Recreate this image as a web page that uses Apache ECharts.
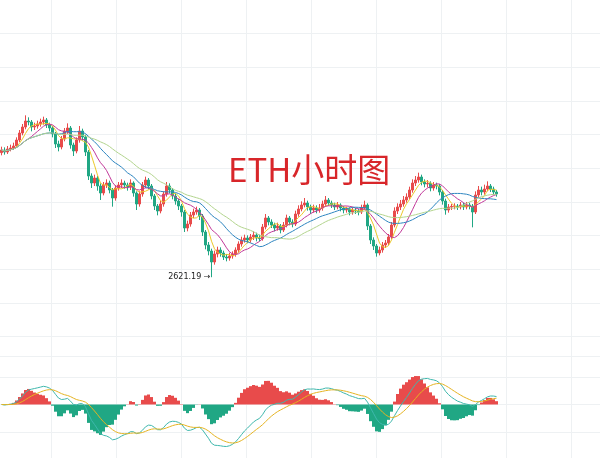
<!DOCTYPE html>
<html><head><meta charset="utf-8">
<script src="https://cdn.jsdelivr.net/npm/echarts@6/dist/echarts.min.js"></script>
<style>html,body{margin:0;padding:0;background:#fff}#c{width:600px;height:458px}</style>
</head><body><div id="c"></div>
<script>
// ---- data (hourly ETH) ----
const firstOpen = 2808;
const closes = [
2812,2809,2813.5,2815,2818,2827,2837.5,2846.5,2855.5,2854,
2846.5,2848,2851,2854,2857,2849.5,2845,2836,2821,2816.5,
2828.5,2840.5,2845,2819.5,2810.5,2827,2840.5,2831.5,2809,2773,
2762.5,2770,2758,2747.5,2759.5,2762.5,2752,2740,2755,2759.5,
2762.5,2759.5,2756.5,2762.5,2747.5,2731,2746,2759.5,2767,2758,
2743,2728,2720.5,2731,2746,2758,2752,2743,2735.5,2728,
2719,2695,2701,2714.5,2719,2722,2713,2689,2669.5,2660.5,
2644,2656,2662,2657.5,2651.5,2650,2653,2656,2662,2671,
2677,2680,2677,2681.5,2684.5,2680,2679,2696.5,2710,2704,
2699.5,2695,2698,2692,2699.5,2710,2704,2701,2716,2723.5,
2729.5,2732.5,2726.5,2722,2725,2722,2725,2731,2737,2732.5,
2729.5,2726.5,2729.5,2725,2722,2723,2719,2722,2720.5,2719,
2725,2729.5,2698,2677,2668,2657.5,2662,2669.5,2672.5,2681.5,
2699.5,2720.5,2726.5,2731,2737,2741.5,2752,2762.5,2767,2771.5,
2764,2761,2762,2755,2759.5,2758,2749,2735.5,2722,2726.5,
2727.5,2728,2726.5,2729.5,2726.5,2729.5,2728,2719,2744.5,2752,
2749,2753.5,2758,2753.5,2749,2746
];
const highs = [
2817,2816,2818,2820,2823,2831,2842,2851,2864,2861,
2857,2853,2856,2859,2862,2860,2853,2848,2839,2826,
2833,2845,2852,2848,2823,2831,2848,2844,2835,2812,
2777,2775,2773,2762,2764,2768,2766,2755,2759,2764,
2768,2766,2763,2768,2765,2750,2750,2764,2772,2770,
2761,2746,2731,2736,2750,2764,2762,2755,2747,2739,
2731,2722,2706,2719,2724,2727,2725,2716,2692,2674,
2664,2661,2667,2666,2661,2656,2658,2660,2666,2675,
2682,2685,2684,2686,2690,2688,2685,2701,2716,2713,
2708,2703,2703,2701,2704,2715,2713,2708,2721,2729,
2735,2740,2736,2730,2730,2729,2731,2736,2743,2740,
2736,2733,2734,2732,2728,2727,2726,2726,2725,2724,
2730,2736,2732,2701,2681,2671,2667,2674,2677,2686,
2704,2726,2732,2737,2743,2747,2757,2768,2773,2778,
2775,2768,2767,2765,2764,2763,2761,2752,2739,2731,
2731,2732,2731,2734,2733,2734,2733,2731,2750,2758,
2757,2760,2765,2761,2757,2752
];
const lows = [
2804,2805,2806,2810,2812,2815,2824,2834,2843,2849,
2840,2842,2844,2847,2850,2845,2840,2831,2815,2810,
2813,2825,2836,2814,2803,2807,2823,2826,2803,2767,
2755,2758,2751,2737,2744,2755,2747,2727,2736,2751,
2755,2754,2751,2752,2742,2722,2727,2742,2755,2753,
2738,2722,2714,2717,2727,2742,2747,2738,2730,2722,
2712,2689,2690,2697,2710,2715,2707,2683,2663,2654,
2621.19,2640,2651,2652,2647,2645,2646,2649,2652,2658,
2667,2673,2672,2673,2677,2675,2675,2676,2693,2699,
2695,2690,2691,2687,2689,2696,2699,2696,2698,2712,
2720,2726,2721,2716,2718,2717,2718,2721,2727,2728,
2725,2722,2723,2720,2717,2718,2714,2715,2716,2714,
2716,2722,2692,2671,2662,2652,2654,2658,2665,2669,
2678,2696,2716,2722,2727,2733,2738,2748,2758,2763,
2759,2756,2756,2750,2751,2753,2744,2730,2715,2718,
2722,2723,2722,2723,2722,2723,2723,2696,2716,2740,
2744,2745,2750,2749,2745,2742
];
const maPeriods = [5, 10, 20, 30];
const maColors = ['#ecc92a', '#c2399a', '#2e86c1', '#b3d58e'];
const titleText = 'ETH小时图';

// ---- derived ----
const opens = closes.map((c, i) => i === 0 ? firstOpen : closes[i - 1]);
const cats = closes.map((_, i) => String(i));
const kdata = closes.map((c, i) => [opens[i], c, lows[i], highs[i]]);
function sma(n) {
  return closes.map((_, i) => {
    const s = Math.max(0, i - n + 1); let t = 0;
    for (let j = s; j <= i; j++) t += closes[j];
    return +(t / (i - s + 1)).toFixed(2);
  });
}
function ema(arr, n) {
  const k = 2 / (n + 1); const out = [];
  arr.forEach((v, i) => out.push(i === 0 ? v : out[i - 1] + k * (v - out[i - 1])));
  return out;
}
const e12 = ema(closes, 12), e26 = ema(closes, 26);
const dif = e12.map((v, i) => v - e26[i]);
const dea = ema(dif, 9);
const hist = dif.map((v, i) => 2 * (v - dea[i]));
let maxAbs = 0;
dif.concat(dea, hist).forEach(v => { maxAbs = Math.max(maxAbs, Math.abs(v)); });
const M = maxAbs * 53.5 / 42;

const UP = '#e84b4b', DOWN = '#20a784', GRIDC = '#eef1f3';
const noAx = { axisLine: { show: false }, axisTick: { show: false }, axisLabel: { show: false } };

const chart = echarts.init(document.getElementById('c'), null, { renderer: 'canvas' });
chart.setOption({
  animation: false,
  backgroundColor: '#fff',
  title: {
    text: titleText, left: 228, top: 153, padding: 0,
    textStyle: { color: '#d8262a', fontSize: 33, fontWeight: 'normal', fontFamily: 'Noto Sans CJK SC' }
  },
  grid: [
    { left: 51.5, right: 0, top: 0, bottom: 0 },
    { left: 0, right: 0, top: 33.5, height: 323 },
    { left: 0, right: 0, top: 377, height: 55 },
    { left: 0, width: 498, top: 0, height: 356.5 },
    { left: 0, width: 498, top: 351, height: 107 }
  ],
  xAxis: [
    Object.assign({ gridIndex: 0, type: 'value', min: 0, max: 548.5 / 65, interval: 1, splitLine: { show: true, lineStyle: { color: GRIDC, width: 1 } } }, noAx),
    { gridIndex: 1, type: 'value', min: 0, max: 1, axisLine: { show: true, lineStyle: { color: GRIDC } }, axisTick: { show: false }, axisLabel: { show: false }, splitLine: { show: false } },
    { gridIndex: 2, type: 'value', min: 0, max: 1, show: false },
    { gridIndex: 3, type: 'category', data: cats, boundaryGap: true, show: false },
    { gridIndex: 4, type: 'category', data: cats, boundaryGap: true, show: false }
  ],
  yAxis: [
    { gridIndex: 0, type: 'value', min: 0, max: 1, show: false },
    Object.assign({ gridIndex: 1, type: 'value', inverse: true, min: 0, max: 323 / 33.67, interval: 1, splitLine: { show: true, lineStyle: { color: GRIDC } } }, noAx),
    Object.assign({ gridIndex: 2, type: 'value', min: 0, max: 2, interval: 1, splitLine: { show: true, lineStyle: { color: GRIDC } } }, noAx),
    { gridIndex: 3, type: 'value', min: 2502.25, max: 3037, show: false, splitLine: { show: false } },
    { gridIndex: 4, type: 'value', min: -M, max: M, show: false, splitLine: { show: false } }
  ],
  series: [
    {
      type: 'candlestick', xAxisIndex: 3, yAxisIndex: 3, data: kdata, barWidth: 2,
      itemStyle: { color: UP, color0: DOWN, borderColor: UP, borderColor0: DOWN, borderWidth: 1 },
      markPoint: {
        symbol: 'circle', symbolSize: 0,
        data: [{ type: 'min', valueDim: 'lowest' }],
        label: { show: true, position: 'left', distance: 1, fontSize: 8, color: '#222', fontFamily: 'DejaVu Sans',
          formatter: p => Number(p.value).toFixed(2) + ' →' }
      }
    },
    ...maPeriods.map((n, k) => ({
      type: 'line', xAxisIndex: 3, yAxisIndex: 3, data: sma(n), showSymbol: false, symbol: 'none',
      lineStyle: { width: 1, color: maColors[k] }, z: 3
    })),
    {
      type: 'bar', xAxisIndex: 4, yAxisIndex: 4, data: hist, barWidth: '100%', barCategoryGap: '0%',
      itemStyle: { color: p => p.value >= 0 ? UP : DOWN }
    },
    { type: 'line', xAxisIndex: 4, yAxisIndex: 4, data: dif, showSymbol: false, symbol: 'none', lineStyle: { width: 1, color: '#3fb8ad' }, z: 3 },
    { type: 'line', xAxisIndex: 4, yAxisIndex: 4, data: dea, showSymbol: false, symbol: 'none', lineStyle: { width: 1, color: '#e6b422' }, z: 3 }
  ]
});
</script>
</body></html>
